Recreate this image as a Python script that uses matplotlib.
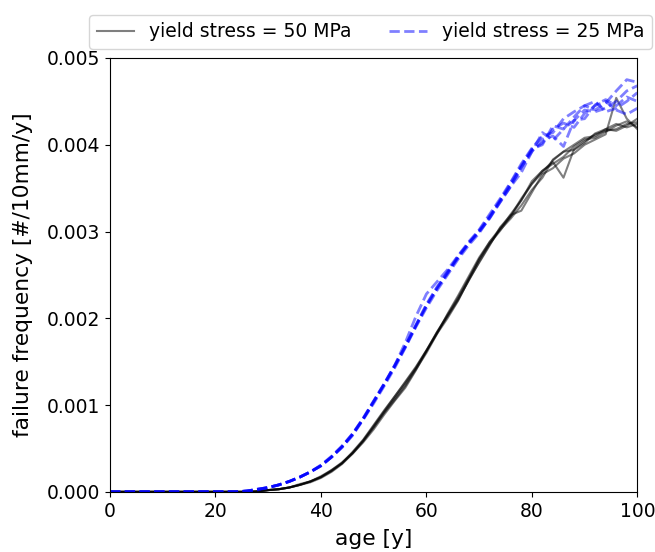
import numpy as np
import matplotlib
matplotlib.use('Agg')
import matplotlib.pyplot as plt

# sampled ages [y]; curves are flat zero up to 24 y
ages = [0, 24, 26, 28, 30, 32, 34, 36, 38, 40, 42, 44, 46, 48, 50, 52, 54, 56, 58, 60,
        62, 64, 66, 68, 70, 72, 74, 76, 78, 80, 82, 84, 86, 88, 90, 92, 94, 96, 98, 100]

# failure frequency per run, in units of 1e-3 #/10mm/y
# yield stress = 50 MPa
ys50_run1 = [0, 0, 0, 0.005, 0.02, 0.03, 0.05, 0.08, 0.12, 0.17, 0.24, 0.33, 0.45, 0.59, 0.76, 0.93, 1.10, 1.27, 1.44, 1.63,
             1.84, 2.03, 2.22, 2.43, 2.65, 2.85, 3.03, 3.20, 3.36, 3.55, 3.70, 3.78, 3.86, 3.98, 4.06, 4.08, 4.15, 4.22, 4.27, 4.20]
ys50_run2 = [0, 0, 0, 0.004, 0.02, 0.03, 0.05, 0.09, 0.12, 0.18, 0.25, 0.33, 0.44, 0.57, 0.72, 0.89, 1.05, 1.20, 1.40, 1.62,
             1.82, 2.05, 2.26, 2.48, 2.70, 2.88, 3.02, 3.15, 3.30, 3.48, 3.62, 3.83, 3.92, 3.94, 4.02, 4.13, 4.18, 4.16, 4.22, 4.30]
ys50_run3 = [0, 0, 0, 0.006, 0.02, 0.03, 0.05, 0.08, 0.11, 0.16, 0.23, 0.32, 0.44, 0.58, 0.74, 0.91, 1.06, 1.22, 1.41, 1.60,
             1.82, 2.00, 2.20, 2.44, 2.64, 2.84, 3.05, 3.19, 3.24, 3.45, 3.66, 3.73, 3.84, 3.90, 4.00, 4.06, 4.12, 4.54, 4.30, 4.18]
ys50_run4 = [0, 0, 0, 0.005, 0.02, 0.03, 0.05, 0.08, 0.12, 0.17, 0.24, 0.33, 0.46, 0.60, 0.77, 0.94, 1.10, 1.26, 1.43, 1.63,
             1.83, 2.02, 2.21, 2.44, 2.68, 2.88, 3.04, 3.17, 3.36, 3.58, 3.70, 3.80, 3.62, 3.95, 4.04, 4.12, 4.16, 4.18, 4.24, 4.26]
ys50_run5 = [0, 0, 0, 0.005, 0.02, 0.03, 0.05, 0.08, 0.12, 0.17, 0.25, 0.34, 0.45, 0.59, 0.75, 0.92, 1.08, 1.24, 1.42, 1.62,
             1.84, 2.04, 2.24, 2.46, 2.68, 2.86, 3.01, 3.18, 3.38, 3.55, 3.68, 3.82, 3.92, 4.00, 4.08, 4.10, 4.18, 4.24, 4.20, 4.24]

# yield stress = 25 MPa
ys25_run1 = [0, 0, 0.01, 0.03, 0.05, 0.08, 0.12, 0.17, 0.23, 0.30, 0.40, 0.52, 0.67, 0.85, 1.05, 1.25, 1.46, 1.68, 1.92, 2.16,
             2.36, 2.52, 2.72, 2.88, 3.02, 3.20, 3.38, 3.57, 3.78, 3.96, 4.10, 4.14, 4.30, 4.38, 4.45, 4.40, 4.48, 4.62, 4.75, 4.72]
ys25_run2 = [0, 0, 0.01, 0.03, 0.05, 0.08, 0.12, 0.17, 0.23, 0.31, 0.41, 0.53, 0.67, 0.84, 1.04, 1.24, 1.46, 1.72, 2.02, 2.28,
             2.42, 2.56, 2.72, 2.86, 3.00, 3.16, 3.34, 3.52, 3.68, 3.92, 4.14, 4.05, 4.18, 4.32, 4.45, 4.50, 4.38, 4.42, 4.50, 4.60]
ys25_run3 = [0, 0, 0.01, 0.02, 0.05, 0.08, 0.12, 0.17, 0.23, 0.30, 0.40, 0.51, 0.65, 0.83, 1.02, 1.22, 1.43, 1.66, 1.90, 2.12,
             2.32, 2.50, 2.68, 2.84, 2.98, 3.16, 3.36, 3.54, 3.74, 3.94, 4.02, 4.18, 4.25, 4.20, 4.36, 4.45, 4.50, 4.40, 4.35, 4.42]
ys25_run4 = [0, 0, 0.01, 0.03, 0.05, 0.08, 0.12, 0.17, 0.23, 0.30, 0.40, 0.52, 0.66, 0.84, 1.04, 1.24, 1.45, 1.67, 1.91, 2.14,
             2.34, 2.52, 2.70, 2.86, 3.01, 3.18, 3.36, 3.56, 3.76, 3.95, 4.00, 4.22, 4.18, 4.28, 4.30, 4.46, 4.52, 4.45, 4.55, 4.50]
ys25_run5 = [0, 0, 0.01, 0.03, 0.05, 0.08, 0.12, 0.17, 0.23, 0.30, 0.40, 0.52, 0.66, 0.84, 1.04, 1.24, 1.45, 1.68, 1.92, 2.15,
             2.35, 2.54, 2.70, 2.87, 3.00, 3.15, 3.34, 3.52, 3.74, 3.92, 4.06, 4.10, 3.98, 4.28, 4.40, 4.38, 4.42, 4.50, 4.62, 4.68]

runs_50 = [ys50_run1, ys50_run2, ys50_run3, ys50_run4, ys50_run5]
runs_25 = [ys25_run1, ys25_run2, ys25_run3, ys25_run4, ys25_run5]


def plot_runs(ax, runs, style, label, lw):
    for i, run in enumerate(runs):
        ax.plot(ages, np.array(run) * 1e-3, style, alpha=0.5, linewidth=lw,
                label=label if i == 0 else None)


fig = plt.figure(figsize=(6.55, 5.52), dpi=100)
ax = fig.add_axes([0.168, 0.109, 0.805, 0.786])

plot_runs(ax, runs_50, 'k-', 'yield stress = 50 MPa', 1.5)
plot_runs(ax, runs_25, 'b--', 'yield stress = 25 MPa', 2.0)

ax.set_xlim(0, 100)
ax.set_ylim(0, 0.005)
ax.set_xticks([0, 20, 40, 60, 80, 100])
ax.set_yticks([0.000, 0.001, 0.002, 0.003, 0.004, 0.005])
ax.set_yticklabels(['%.3f' % t for t in ax.get_yticks()])
ax.tick_params(labelsize=13.5)
ax.set_xlabel('age [y]', fontsize=15.7, labelpad=6)
ax.set_ylabel('failure frequency [#/10mm/y]', fontsize=15.7, labelpad=10)

fig.legend(loc='upper left', bbox_to_anchor=(0.122, 0.99), ncol=2,
           fontsize=13.5, frameon=True)

fig.savefig('out.png', dpi=100)
